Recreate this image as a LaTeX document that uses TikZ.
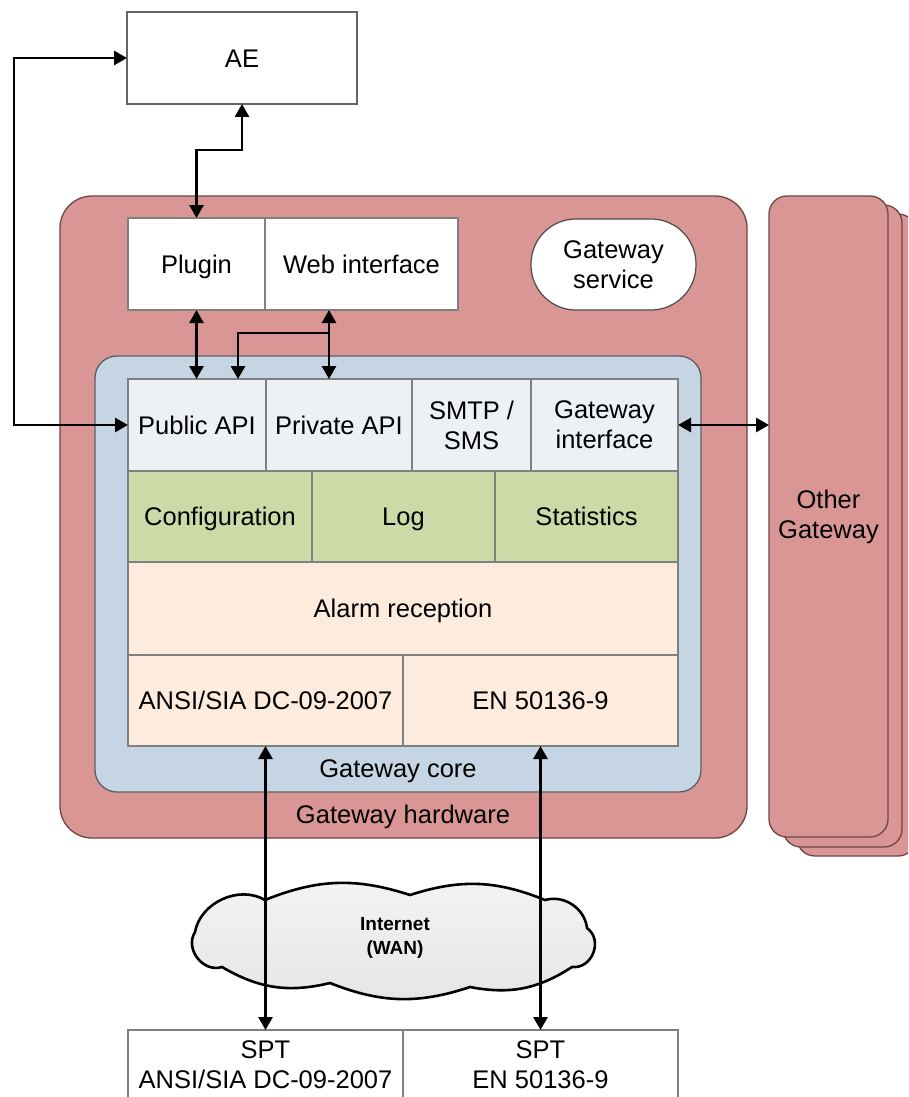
\documentclass[tikz,border=0pt]{standalone}
\usepackage{fontspec}
\setmainfont{Liberation Sans}
\usetikzlibrary{arrows.meta}
\definecolor{hwpink}{HTML}{D99694}
\definecolor{hwedge}{HTML}{6E4545}
\definecolor{coreblue}{HTML}{C6D5E4}
\definecolor{coreedge}{HTML}{5A5F66}
\definecolor{apifill}{HTML}{EDF1F6}
\definecolor{greenfill}{HTML}{CDDAA7}
\definecolor{alarmfill}{HTML}{FDEBDD}
\definecolor{boxedge}{HTML}{808080}
\begin{document}
\begin{tikzpicture}[x=1pt,y=-1pt,
  lbl/.style={font=\fontsize{25.5}{30}\selectfont, align=center, text=black},
  one/.style={text height=18.3pt, text depth=0pt},
  cell/.style={draw=boxedge, line width=1.2pt, inner sep=0pt, outer sep=0pt, lbl},
  panel/.style={draw=hwedge, line width=1.3pt, fill=hwpink, inner sep=0pt, outer sep=0pt},
  corepanel/.style={draw=coreedge, line width=1.3pt, fill=coreblue, inner sep=0pt, outer sep=0pt, rounded corners=22pt},
  tipa/.tip={Triangle[width=14pt,length=13pt]},
  dbl/.style={line width=2.8pt, tipa-tipa},
  sgl/.style={line width=2.8pt, -tipa},
]
\clip (0,0) rectangle (908,1097);
\fill[white] (0,0) rectangle (908,1097);

% gateway hardware
\node[panel, rounded corners=32pt, minimum width=687pt, minimum height=642pt] (hw) at (403.5,517) {};
% other gateways
\node[panel, rounded corners=18pt, minimum width=119pt, minimum height=642pt] (og3) at (856.5,535) {};
\node[panel, rounded corners=18pt, minimum width=119pt, minimum height=642pt] (og2) at (842.5,526) {};
\node[panel, rounded corners=18pt, minimum width=119pt, minimum height=641pt, lbl] (og) at (828.5,516.5) {Other\\Gateway};

% gateway core
\node[corepanel, minimum width=606pt, minimum height=436pt] (core) at (398,574) {};

% top boxes
\node[cell, one, draw=black!60, fill=white, minimum width=230pt, minimum height=92pt] (ae) at (242,58) {AE};
\node[cell, one, fill=white, minimum width=137pt, minimum height=92pt] (plugin) at (196.5,264) {Plugin};
\node[cell, one, fill=white, minimum width=193pt, minimum height=92pt] (web) at (361.5,264) {Web interface};
\node[cell, draw=black!70, fill=white, rounded corners=45pt, minimum width=165pt, minimum height=91pt] (svc) at (613.5,264.5) {Gateway\\service};

% API row
\node[cell, one, fill=apifill, minimum width=138pt, minimum height=92pt] (pub) at (197,425) {Public API};
\node[cell, one, fill=apifill, minimum width=146pt, minimum height=92pt] (priv) at (339,425) {Private API};
\node[cell, fill=apifill, minimum width=119pt, minimum height=92pt] (smtp) at (471.5,425) {SMTP /\\SMS};
\node[cell, fill=apifill, minimum width=147pt, minimum height=92pt] (gwif) at (604.5,425) {Gateway\\interface};

% green row
\node[cell, one, fill=greenfill, minimum width=184pt, minimum height=91pt] (conf) at (220,516.5) {Configuration};
\node[cell, one, fill=greenfill, minimum width=183pt, minimum height=91pt] (log) at (403.5,516.5) {Log};
\node[cell, one, fill=greenfill, minimum width=183pt, minimum height=91pt] (stat) at (586.5,516.5) {Statistics};

% alarm
\node[cell, one, fill=alarmfill, minimum width=550pt, minimum height=93pt] (alarm) at (403,608.5) {Alarm reception};
\node[cell, one, fill=alarmfill, minimum width=275pt, minimum height=91pt] (ansi) at (265.5,700.5) {ANSI/SIA DC-09-2007};
\node[cell, one, fill=alarmfill, minimum width=275pt, minimum height=91pt] (en) at (540.5,700.5) {EN 50136-9};

\node[lbl, one] (corelbl) at (398,768) {Gateway core};
\node[lbl, one] (hwlbl) at (403,814) {Gateway hardware};

% SPT boxes
\node[cell, fill=white, minimum width=275pt, minimum height=70pt] (spta) at (265.5,1065) {SPT\\ANSI/SIA DC-09-2007};
\node[cell, fill=white, minimum width=275pt, minimum height=70pt] (spte) at (540.5,1065) {SPT\\EN 50136-9};

% cloud
\draw[line width=2.6pt, top color=gray!9, bottom color=gray!20]
  (195,932) to[bend left=55] (265,900) to[bend left=20] (410,895)
  to[bend left=20] (545,900) to[bend left=50] (587,928)
  to[bend left=75, looseness=1.25] (572,967) to[bend left=22] (470,987)
  to[bend left=20] (330,983) to[bend left=22] (222,967)
  to[bend left=70, looseness=1.15] (195,932) -- cycle;
\node[font=\bfseries\fontsize{19}{24}\selectfont, align=center] (inet) at (395,938) {Internet\\(WAN)};

% connectors
\coordinate (lft) at (14,0);
\coordinate (kink) at (0,150);
\coordinate (wx) at (329,0);
\coordinate (px) at (238,0);
\coordinate (br) at (329,333);
\draw[dbl] (pub.west) -- (pub.west -| lft) |- (ae.west);
\draw[dbl] (plugin.north) -- (plugin.north |- kink) -| (ae.south);
\draw[dbl] (plugin.south) -- (pub.north -| plugin.south);
\draw[dbl] (web.south -| wx) -- (priv.north -| wx);
\draw[sgl] (br) -| (pub.north -| px);
\draw[dbl] (gwif.east) -- (og.west |- gwif.east);
\draw[dbl] (ansi.south) -- (spta.north);
\draw[dbl] (en.south) -- (spte.north);
\end{tikzpicture}
\end{document}
